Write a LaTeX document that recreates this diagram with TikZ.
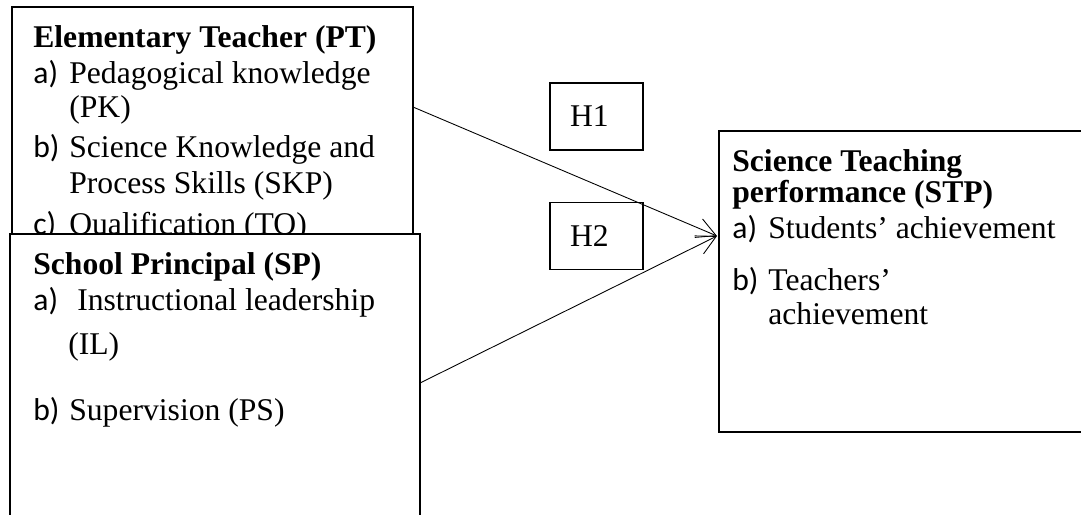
\documentclass[tikz,border=0pt]{standalone}
\usepackage{fontspec}
\setmainfont{Liberation Serif}
\newfontfamily\lblfont{Carlito}
\usetikzlibrary{arrows.meta}
\pgfdeclarelayer{edgelayer}
\pgfdeclarelayer{nodelayer}
\pgfsetlayers{edgelayer,nodelayer,main}
\tikzset{font=\fontsize{18}{21}\selectfont}
\tikzstyle{txt}=[inner sep=0pt, anchor=base west]
\tikzstyle{lbl}=[txt, font=\fontsize{18}{21}\selectfont\lblfont]
\tikzstyle{head}=[txt, font=\fontsize{18}{21}\selectfont\bfseries]
\tikzstyle{frame}=[draw, line width=0.9pt]
\tikzstyle{hyp}=[draw, line width=0.9pt, minimum width=1.86cm, minimum height=1.34cm, text width=1.06cm, inner xsep=0.4cm, inner ysep=0pt, align=left]
\tikzstyle{link}=[line width=0.5pt, -{Straight Barb[length=0.38cm, width=0.4cm]}]

\begin{document}
\begin{tikzpicture}[x=0.02cm, y=-0.02cm]
	\useasboundingbox (0,0) rectangle (1081,514);
	\clip (0,0) rectangle (1081,514);
	\begin{pgfonlayer}{nodelayer}
		% teacher
		\draw [frame] (12,7) rectangle (413,250);
		\node [head] (pt) at (33,47) {Elementary Teacher (PT)};
		\node [lbl] (pta) at (33,83) {a)};
		\node [txt] (ptpk) at (69,83) {Pedagogical knowledge};
		\node [txt] (ptpk2) at (69,117) {(PK)};
		\node [lbl] (ptb) at (33,157) {b)};
		\node [txt] (ptskp) at (69,157) {Science Knowledge and};
		\node [txt] (ptskp2) at (69,193) {Process Skills (SKP)};
		\node [lbl] (ptc) at (33,234) {c)};
		\node [txt] (ptto) at (69,234) {Qualification (TO)};
		% principal
		\draw [frame, fill=white] (10,234) rectangle (420,540);
		\node [head] (sp) at (33,274) {School Principal (SP)};
		\node [lbl] (spa) at (33,310) {a)};
		\node [txt] (spil) at (77,310) {Instructional leadership};
		\node [txt] (spil2) at (68,354) {(IL)};
		\node [lbl] (spb) at (33,420) {b)};
		\node [txt] (spps) at (69,420) {Supervision (PS)};
		% performance
		\draw [frame] (719,131) rectangle (1095,432);
		\node [head] (stp) at (732,171) {Science Teaching};
		\node [head] (stp2) at (732,202) {performance (STP)};
		\node [lbl] (stpa) at (732,238) {a)};
		\node [txt] (stpsa) at (768,238) {Students’ achievement};
		\node [lbl] (stpb) at (732,290) {b)};
		\node [txt] (stpta) at (768,290) {Teachers’};
		\node [txt] (stpta2) at (768,324) {achievement};
		% hypotheses
		\node [hyp] (h1) at (596.5,116.5) {H1};
		\node [hyp] (h2) at (596.5,236) {H2};
	\end{pgfonlayer}
	\begin{pgfonlayer}{edgelayer}
		\coordinate (ptout) at (413,107);
		\coordinate (spout) at (420,383);
		\coordinate (tip) at (717,236);
		\draw [link] (ptout) to (tip);
		\draw [link] (spout) to (tip);
	\end{pgfonlayer}
\end{tikzpicture}
\end{document}
